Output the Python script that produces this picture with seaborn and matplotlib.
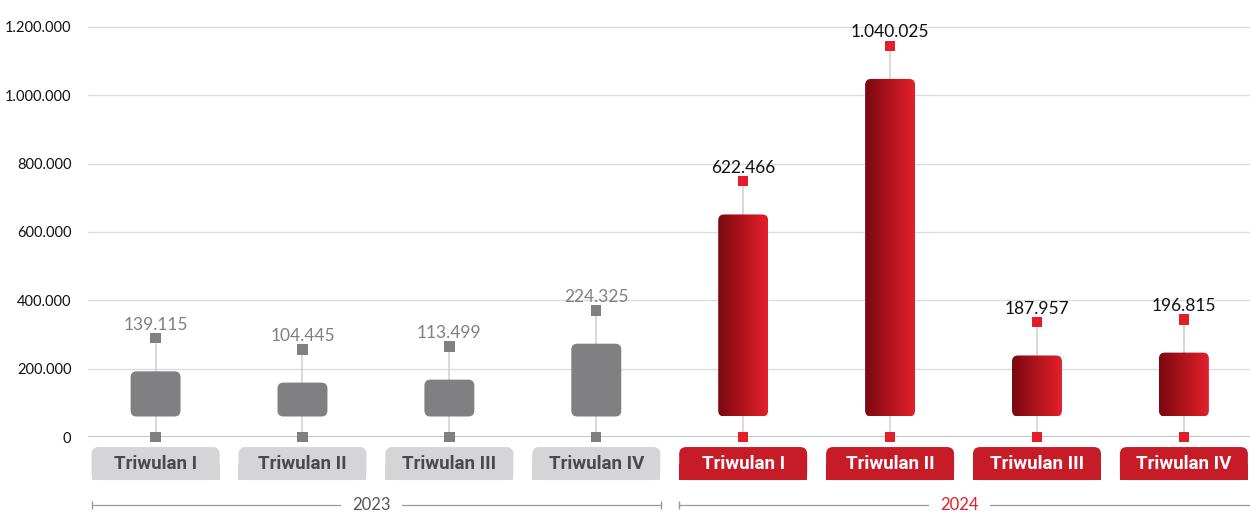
import numpy as np
import pandas as pd
import seaborn as sns
import matplotlib.pyplot as plt
from matplotlib.patches import FancyBboxPatch, Rectangle
from matplotlib.colors import LinearSegmentedColormap

# data
quarters = ["Triwulan I", "Triwulan II", "Triwulan III", "Triwulan IV"] * 2
years = ["2023"] * 4 + ["2024"] * 4
values = [139115, 104445, 113499, 224325, 622466, 1040025, 187957, 196815]
yticks = [0, 200000, 400000, 600000, 800000, 1000000, 1200000]
year_names = ["2023", "2024"]

GREY = "#808083"
RED = "#e31e2a"
BOX_GREY = "#d5d5d7"
BOX_RED = "#c81b28"

sns.set_theme(style="white")
plt.rcParams["font.family"] = ["Lato", "DejaVu Sans"]

df = pd.DataFrame({"quarter": quarters, "year": years, "value": values})
df["key"] = df["quarter"] + " " + df["year"]
# decorative bars: start at a floating base, top scaled from value
base = 60000
df["top"] = base + 0.95 * df["value"]
df["marker"] = df["top"] + 97000

fig = plt.figure(figsize=(12.5, 5.16), dpi=100)
ax = fig.add_axes([0.0704, 0.1531, 0.9296, 0.8277])

sns.barplot(data=df, x="key", y="top", order=list(df["key"]), width=0.34,
            color=GREY, ax=ax, zorder=3)

xlim = (-0.46, 7.45)
ylim = (0, 1250000)
ax.set_xlim(*xlim)
ax.set_ylim(*ylim)

# px -> data conversions for rounded corners
px_x = (xlim[1] - xlim[0]) / (1250 * 0.9296)
px_y = (ylim[1] - ylim[0]) / (516 * 0.8277)
asp = px_y / px_x

red_cmap = LinearSegmentedColormap.from_list("redgrad", ["#7a0910", "#b0141d", "#e3202c"])
grad = np.linspace(0, 1, 256).reshape(1, -1)

for i, p in enumerate(ax.patches):
    x0, w = p.get_x(), p.get_width()
    top = p.get_height()
    p.set_visible(False)
    box = FancyBboxPatch((x0, base), w, top - base,
                         boxstyle=f"round,pad=0,rounding_size={6 * px_x}",
                         mutation_aspect=asp, linewidth=0, zorder=3)
    if df["year"][i] == "2023":
        box.set_facecolor(GREY)
        ax.add_patch(box)
    else:
        box.set_facecolor("none")
        ax.add_patch(box)
        im = ax.imshow(grad, extent=[x0, x0 + w, base, top], aspect="auto",
                       cmap=red_cmap, zorder=3)
        im.set_clip_path(box)

ax.set_xlim(*xlim)
ax.set_ylim(*ylim)

pos = np.arange(len(df))
colors = [GREY if y == "2023" else RED for y in df["year"]]

# whiskers
ax.vlines(pos, 0, df["marker"], color="#d2d2d2", linewidth=1.2, zorder=2)
# markers
sns.scatterplot(x=pos, y=df["marker"], marker="s", s=55, c=colors,
                linewidth=0, ax=ax, zorder=4, legend=False)
sns.scatterplot(x=pos, y=np.zeros(len(df)), marker="s", s=55, c=colors,
                linewidth=0, ax=ax, zorder=4, legend=False, clip_on=False)

# value labels
for i, (v, m) in enumerate(zip(df["value"], df["marker"])):
    lab = f"{v:,}".replace(",", ".")
    ax.annotate(lab, (i, m), xytext=(0, 6), textcoords="offset points",
                ha="center", va="baseline", fontsize=12.5,
                color=GREY if df["year"][i] == "2023" else "#111111")

# grid and axes
ax.set_yticks(yticks)
ax.set_yticklabels([f"{t:,}".replace(",", ".") for t in yticks], fontsize=10.5, color="#111111")
ax.tick_params(axis="y", length=0, pad=12)
ax.set_xticks([])
for t in yticks[1:]:
    ax.axhline(t, color="#dcdcdc", linewidth=1, zorder=1)
ax.axhline(0, color="#bdbdbd", linewidth=2, zorder=1)
sns.despine(ax=ax, left=True, bottom=True)
ax.set_xlabel("")
ax.set_ylabel("")

# category boxes below the axis
bw = 128 * px_x
bh = 33 * px_y
by = -126000
for i, q in enumerate(df["quarter"]):
    fc = BOX_GREY if df["year"][i] == "2023" else BOX_RED
    tc = "#4a4a4c" if df["year"][i] == "2023" else "white"
    rb = FancyBboxPatch((i - bw / 2, by), bw, bh,
                        boxstyle=f"round,pad=0,rounding_size={7 * px_x}",
                        mutation_aspect=asp, facecolor=fc, linewidth=0,
                        clip_on=False, zorder=3)
    ax.add_patch(rb)
    ax.add_patch(Rectangle((i - bw / 2, by), bw, bh / 2, facecolor=fc,
                           linewidth=0, clip_on=False, zorder=3))
    ax.text(i, by + bh / 2, q, ha="center", va="center", fontsize=13.5,
            fontweight="bold", color=tc, family=["Roboto", "DejaVu Sans"],
            zorder=4, clip_on=False)

# year brackets
yb = -199000
for k, (name, col) in enumerate(zip(year_names, ["#555555", RED])):
    x_start = k * 4 - 0.436
    x_end = k * 4 + 3.44 if k == 0 else 7.6
    ax.plot([x_start, x_end], [yb, yb], color="#9a9a9a", linewidth=0.9,
            clip_on=False, zorder=2)
    ax.plot([x_start], [yb], marker="|", markersize=6, color="#9a9a9a",
            clip_on=False, zorder=2)
    if k == 0:
        ax.plot([x_end], [yb], marker="|", markersize=6, color="#9a9a9a",
                clip_on=False, zorder=2)
    ax.text(k * 4 + 1.47, yb, name, ha="center", va="center", fontsize=12,
            color=col, zorder=3, clip_on=False,
            bbox=dict(facecolor="white", edgecolor="none", pad=8))

fig.savefig("out.png", dpi=100)
